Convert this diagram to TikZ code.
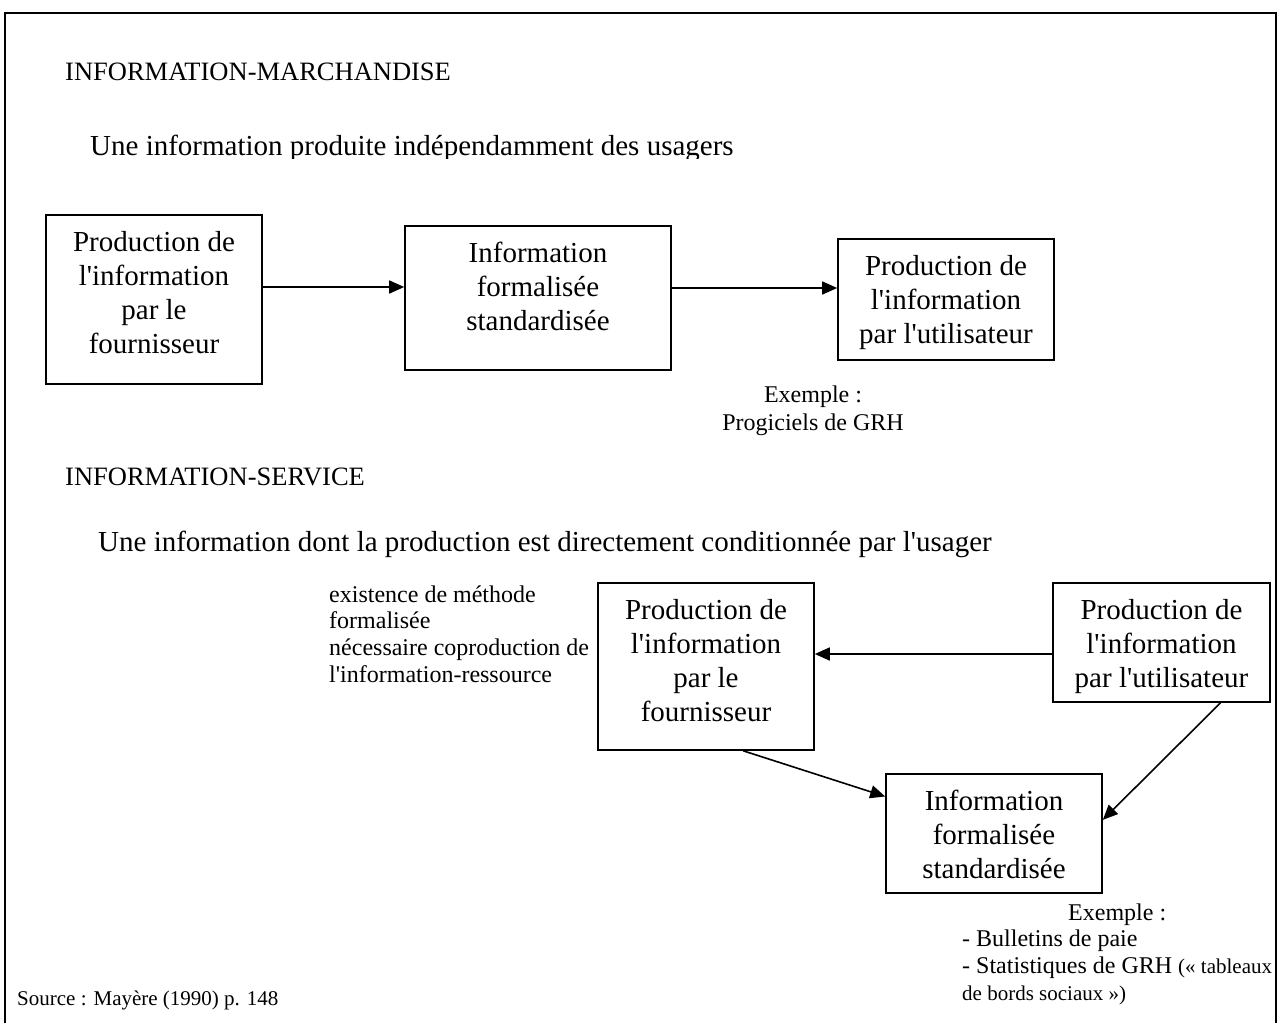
\documentclass[tikz,border=0pt]{standalone}
\usepackage{fontspec}
\setmainfont{Liberation Serif}[Ligatures=TeXOff]
\usetikzlibrary{arrows.meta,calc}
\newcommand\fs[2]{\fontsize{#1}{#2}\selectfont}
\newcommand\boxtxt[3]{\parbox[c][#2][t]{#1}{\centering\rule{0pt}{36.5pt}#3}}
\begin{document}
\begin{tikzpicture}[x=1pt,y=-1pt,
  box/.style={draw, line width=1.6pt, inner sep=0pt, font=\fs{29}{34}},
  conn/.style={line width=1.6pt, -{Triangle[length=15pt,width=13pt]}},
  head/.style={inner sep=0pt, anchor=base west, font=\fs{26.5}{30}},
  sub/.style={inner sep=0pt, anchor=base west, font=\fs{29}{34}},
  small/.style={inner sep=0pt, font=\fs{24}{26.7}}]
\useasboundingbox (0,0) rectangle (1280,1023);
\draw[line width=1.6pt] (5,1023) -- (5,13) -- (1276,13) -- (1276,1023);

% --- upper part
\node[head] (t1) at (65,80) {INFORMATION-MARCHANDISE};
\begin{scope}
\clip (0,0) rectangle (1280,158);
\node[sub] (s1) at (90,155) {Une information produite indépendamment des usagers};
\end{scope}

\node[box] (b1) at (154,299.5) {\boxtxt{216pt}{169pt}{Production de\\l'information\\par le\\fournisseur}};
\node[box] (b2) at (538,298) {\boxtxt{266pt}{144pt}{Information\\formalisée\\standardisée}};
\node[box] (b3) at (946,299.5) {\boxtxt{216pt}{121pt}{Production de\\l'information\\par l'utilisateur}};
\node[small, anchor=base, font=\fs{24}{28}] (ex1) at (813,402) {\parbox[t]{220pt}{\centering Exemple :\\Progiciels de GRH}};

\draw[conn] ([yshift=12.5pt]b1.east) -- ([yshift=12.5pt]b1.east -| b2.west);
\draw[conn] ([yshift=10pt]b2.east) -- ([yshift=10pt]b2.east -| b3.west);

% --- lower part
\node[head] (t2) at (65,485) {INFORMATION-SERVICE};
\node[sub] (s2) at (98,551) {Une information dont la production est directement conditionnée par l'usager};
\node[small, anchor=base west] (note) at (329,602) {\parbox[t]{270pt}{\raggedright existence de méthode\\formalisée\\nécessaire coproduction de\\l'information-ressource}};

\node[box] (b4) at (706,666.5) {\boxtxt{216pt}{167pt}{Production de\\l'information\\par le\\fournisseur}};
\node[box] (b5) at (1161.5,642.5) {\boxtxt{217pt}{119pt}{Production de\\l'information\\par l'utilisateur}};
\node[box] (b6) at (994,833.5) {\boxtxt{216pt}{119pt}{Information\\formalisée\\standardisée}};

\node[small, anchor=base west] (ex2) at (962,920) {\parbox[t]{330pt}{\raggedright\makebox[310pt][c]{Exemple :}\\- Bulletins de paie\\- Statistiques de GRH {\fs{21}{26.7}(«~tableaux}\\{\fs{21}{26.7}de bords sociaux~»)}}};

\node[inner sep=0pt, anchor=base west, font=\fs{21}{24}] (src) at (17,1005) {Source : Mayère (1990) p. 148};

\draw[conn] ([yshift=-11.5pt]b5.west) -- ([yshift=-11.5pt]b5.west -| b4.east);
\draw[conn] ($(b4.south west)!0.671!(b4.south east)$) -- ($(b6.north west)!0.193!(b6.south west)$);
\draw[conn] ($(b5.south west)!0.77!(b5.south east)$) -- ($(b6.north east)!0.387!(b6.south east)$);
\end{tikzpicture}
\end{document}
